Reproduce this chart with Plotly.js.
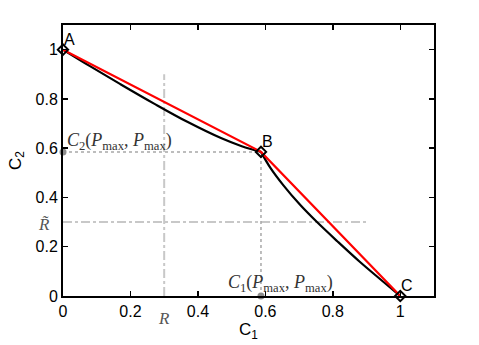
<!DOCTYPE html>
<html>
<head>
<meta charset="utf-8">
<script src="https://cdn.plot.ly/plotly-3.0.1.min.js"></script>
<style>
  body { margin: 0; background: #fff; }
  #plot { width: 479px; height: 345px; }
</style>
</head>
<body>
<div id="plot"></div>
<script>
// corner points A, B, C
const cornerX = [0, 0.587, 1];
const cornerY = [1, 0.585, 0];
const cornerNames = ['A', 'B', 'C'];

// black boundary curve (A->B and B->C)
const curveAX = [0, 0.08, 0.17, 0.27, 0.37, 0.47, 0.53, 0.587];
const curveAY = [1, 0.933, 0.860, 0.781, 0.706, 0.640, 0.608, 0.585];
const curveBX = [0.587, 0.615, 0.653, 0.703, 0.753, 0.815, 0.879, 0.939, 1];
const curveBY = [0.585, 0.52, 0.45, 0.37, 0.30, 0.22, 0.14, 0.07, 0];

// reference lines R and R~
const rValue = 0.3;
const rTilde = 0.3;
const refEnd = 0.9;

const xTicks = [0, 0.2, 0.4, 0.6, 0.8, 1];
const xTickText = ['0', '0.2', '0.4', '0.6', '0.8', '1'];
const yTicks = [0, 0.2, 0.4, 0.6, 0.8, 1];
const yTickText = ['0', '0.2', '0.4', '0.6', '0.8', '1'];

const serif = 'Liberation Serif, DejaVu Serif, serif';
const sans = 'Liberation Sans, Arial, sans-serif';
const c1Label = '<i>C</i><sub>1</sub>(<i>P</i><sub>max</sub>, <i>P</i><sub>max</sub>)';
const c2Label = '<i>C</i><sub>2</sub>(<i>P</i><sub>max</sub>, <i>P</i><sub>max</sub>)';

let bx = cornerX[1], by = cornerY[1];
let curveLine = {color: '#000', width: 2.2, shape: 'spline', smoothing: 1};

let traces = [
    // dash-dot R lines
    {x: [rValue, rValue], y: [0, refEnd], mode: 'lines', line: {color: '#c8c8c8', width: 2, dash: 'dashdot'}},
    {x: [0, refEnd], y: [rTilde, rTilde], mode: 'lines', line: {color: '#c8c8c8', width: 2, dash: 'dashdot'}},
    // dotted projections of B
    {x: [0, bx], y: [by, by], mode: 'lines', line: {color: '#a8a8a8', width: 1.5, dash: 'dot'}},
    {x: [bx, bx], y: [0, by], mode: 'lines', line: {color: '#a8a8a8', width: 1.5, dash: 'dot'}},
    // gray points on the axes
    {x: [bx, 0], y: [0, by], mode: 'markers', marker: {color: '#8c8c8c', size: 7}, cliponaxis: false},
    // curve and chords
    {x: curveAX, y: curveAY, mode: 'lines', line: curveLine},
    {x: curveBX, y: curveBY, mode: 'lines', line: curveLine},
    {x: cornerX, y: cornerY, mode: 'lines', line: {color: '#ff0000', width: 2.2}},
    {x: cornerX, y: cornerY, mode: 'markers', cliponaxis: false,
        marker: {symbol: 'diamond-open', size: 8, color: '#000', line: {width: 2, color: '#000'}}}
];

let annotations = [];
for (let i = 0; i < cornerX.length; i++) {
    annotations.push({x: cornerX[i], y: cornerY[i], text: cornerNames[i], showarrow: false,
        xanchor: 'left', yanchor: 'bottom', xshift: -1, yshift: 0,
        font: {family: sans, size: 16, color: '#000'}});
}
annotations.push({x: 0, y: by, text: c2Label, showarrow: false, xanchor: 'left', yanchor: 'bottom',
    xshift: 2, yshift: -3, font: {family: serif, size: 18, color: '#333'}});
annotations.push({x: bx, y: 0, text: c1Label, showarrow: false, xanchor: 'center', yanchor: 'bottom',
    xshift: 20, yshift: -1, font: {family: serif, size: 18, color: '#333'}});
annotations.push({x: rValue, y: 0, text: '<i>R</i>', showarrow: false, xanchor: 'center', yanchor: 'top',
    yshift: -11, font: {family: serif, size: 17, color: '#555'}});
annotations.push({x: 0, y: rTilde, text: '<i>R\u0303</i>', showarrow: false, xanchor: 'right', yanchor: 'middle',
    xshift: -11, yshift: -2, font: {family: serif, size: 17, color: '#555'}});

let axisCommon = {
    showgrid: false, zeroline: false, showline: true, mirror: 'ticks',
    linecolor: '#000', linewidth: 2, ticks: 'inside', ticklen: 5, tickwidth: 1.5, tickcolor: '#000',
    tickfont: {family: sans, size: 16, color: '#000'}
};

let layout = {
    width: 479, height: 345,
    margin: {l: 63, r: 45, t: 25, b: 49},
    showlegend: false,
    paper_bgcolor: '#fff', plot_bgcolor: '#fff',
    xaxis: Object.assign({}, axisCommon, {range: [0, 1.1], tickvals: xTicks, ticktext: xTickText,
        title: {text: 'C<sub>1</sub>', font: {family: sans, size: 17, color: '#000'}, standoff: 2}}),
    yaxis: Object.assign({}, axisCommon, {range: [0, 1.1], tickvals: yTicks, ticktext: yTickText,
        title: {text: 'C<sub>2</sub>', font: {family: sans, size: 17, color: '#000'}, standoff: 10}}),
    annotations
};

Plotly.newPlot('plot', traces, layout, {staticPlot: true});
</script>
</body>
</html>
